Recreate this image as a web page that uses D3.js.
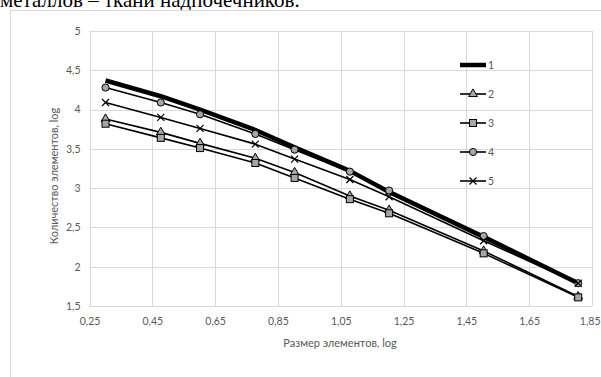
<!DOCTYPE html>
<html><head><meta charset="utf-8">
<script src="https://cdn.jsdelivr.net/npm/d3@7"></script>
<style>body{margin:0;background:#fff;}svg{display:block;}</style>
</head><body>
<svg id="c" width="601" height="377"></svg>
<script>
const xValues = [0.301, 0.477, 0.602, 0.778, 0.903, 1.079, 1.204, 1.505, 1.806];
const series1 = [4.37, 4.17, 4.00, 3.74, 3.52, 3.22, 2.95, 2.38, 1.79];
const series2 = [3.88, 3.71, 3.57, 3.38, 3.20, 2.90, 2.72, 2.20, 1.62];
const series3 = [3.82, 3.64, 3.51, 3.32, 3.13, 2.86, 2.68, 2.17, 1.61];
const series4 = [4.28, 4.09, 3.94, 3.69, 3.49, 3.21, 2.97, 2.39, 1.79];
const series5 = [4.09, 3.90, 3.76, 3.56, 3.37, 3.11, 2.89, 2.33, 1.79];
const seriesNames = ["1", "2", "3", "4", "5"];
const xTicks = [0.25, 0.45, 0.65, 0.85, 1.05, 1.25, 1.45, 1.65, 1.85];
const yTicks = [1.5, 2, 2.5, 3, 3.5, 4, 4.5, 5];
const xTitle = "Размер элементов, log";
const yTitle = "Количество элементов, log";
const caption = "металлов – ткани надпочечников.";

const svg = d3.select("#c");
const L = 89.5, R = 592, T = 31, B = 306;
const x = d3.scaleLinear().domain([0.25, 1.85]).range([L, R]);
const y = d3.scaleLinear().domain([1.5, 5]).range([B, T]);
const fmt = v => d3.format(".2~f")(v).replace(".", ",");

// caption text above (cut off by the page top, as in the source)
svg.append("text").attr("x", 0).attr("y", 7).attr("font-family", "Liberation Serif")
  .attr("font-size", 21).attr("fill", "#000").text(caption);

// chart area border
svg.append("rect").attr("x", 10.5).attr("y", 10.5).attr("width", 620).attr("height", 400)
  .attr("fill", "#fff").attr("stroke", "#d9d9d9");

const grid = svg.append("g");
grid.selectAll(".gy").data(yTicks).join("line")
  .attr("x1", L).attr("x2", R).attr("y1", d => Math.round(y(d)) + 0.5).attr("y2", d => Math.round(y(d)) + 0.5)
  .attr("stroke", "#d9d9d9").attr("stroke-width", 1);
grid.selectAll(".gx").data(xTicks).join("line")
  .attr("y1", T).attr("y2", B).attr("x1", d => Math.round(x(d)) + 0.5).attr("x2", d => Math.round(x(d)) + 0.5)
  .attr("stroke", "#d9d9d9").attr("stroke-width", 1);

// axes (labels only, via d3 axes)
const xAxis = svg.append("g").attr("transform", `translate(0,${B})`)
  .call(d3.axisBottom(x).tickValues(xTicks).tickFormat(fmt).tickSize(0).tickPadding(12));
const yAxis = svg.append("g").attr("transform", `translate(${L},0)`)
  .call(d3.axisLeft(y).tickValues(yTicks).tickFormat(fmt).tickSize(0).tickPadding(9));
[xAxis, yAxis].forEach(a => {
  a.select(".domain").remove();
  a.selectAll("text").attr("font-family", "Lato").attr("font-size", 10.5).attr("fill", "#595959");
});
// keep the last x label inside the page
xAxis.selectAll("text").filter(d => d === xTicks[xTicks.length - 1])
  .attr("text-anchor", "end").attr("dx", 8);
svg.append("line").attr("x1", L).attr("x2", R).attr("y1", B + 0.5).attr("y2", B + 0.5).attr("stroke", "#d9d9d9");

svg.append("text").attr("x", 340).attr("y", 347).attr("text-anchor", "middle")
  .attr("font-family", "Lato").attr("font-size", 11).attr("fill", "#595959").text(xTitle);
svg.append("text").attr("transform", "translate(58,176) rotate(-90)").attr("text-anchor", "middle")
  .attr("font-family", "Lato").attr("font-size", 11).attr("fill", "#595959").text(yTitle);

const allSeries = [series1, series2, series3, series4, series5];
const markers = [null, "triangle", "square", "circle", "cross"];
const widths = [4.5, 1.6, 1.6, 1.6, 1.6];
const line = d3.line().x((d, i) => x(xValues[i])).y(d => y(d));

function drawMarker(g, type, cx, cy) {
  if (type === "triangle") {
    g.append("path").attr("d", d3.symbol(d3.symbolTriangle, 34)()).attr("transform", `translate(${cx},${cy})`)
      .attr("fill", "#a6a6a6").attr("stroke", "#000").attr("stroke-width", 1);
  } else if (type === "square") {
    g.append("rect").attr("x", cx - 3.5).attr("y", cy - 3.5).attr("width", 7).attr("height", 7)
      .attr("fill", "#a6a6a6").attr("stroke", "#000").attr("stroke-width", 1);
  } else if (type === "circle") {
    g.append("circle").attr("cx", cx).attr("cy", cy).attr("r", 3.6)
      .attr("fill", "#a6a6a6").attr("stroke", "#000").attr("stroke-width", 1);
  } else if (type === "cross") {
    g.append("path").attr("d", `M${cx-3.5},${cy-3.5}L${cx+3.5},${cy+3.5}M${cx-3.5},${cy+3.5}L${cx+3.5},${cy-3.5}`)
      .attr("stroke", "#000").attr("stroke-width", 1.2).attr("fill", "none");
  }
}

const plot = svg.append("g");
allSeries.forEach((s, k) => {
  const g = plot.append("g");
  g.append("path").datum(s).attr("d", line).attr("fill", "none").attr("stroke", "#000")
    .attr("stroke-width", widths[k]).attr("stroke-linejoin", "round");
  if (markers[k]) s.forEach((v, i) => drawMarker(g, markers[k], x(xValues[i]), y(v)));
});

// legend
const legY = [65, 94, 123, 152, 181];
const leg = svg.append("g");
seriesNames.forEach((n, k) => {
  const g = leg.append("g");
  g.append("line").attr("x1", 460).attr("x2", 486).attr("y1", legY[k]).attr("y2", legY[k])
    .attr("stroke", "#000").attr("stroke-width", widths[k]);
  if (markers[k]) drawMarker(g, markers[k], 473, legY[k]);
  g.append("text").attr("x", 488).attr("y", legY[k] + 4).attr("font-family", "Lato")
    .attr("font-size", 10.5).attr("fill", "#595959").text(n);
});
</script>
</body></html>
